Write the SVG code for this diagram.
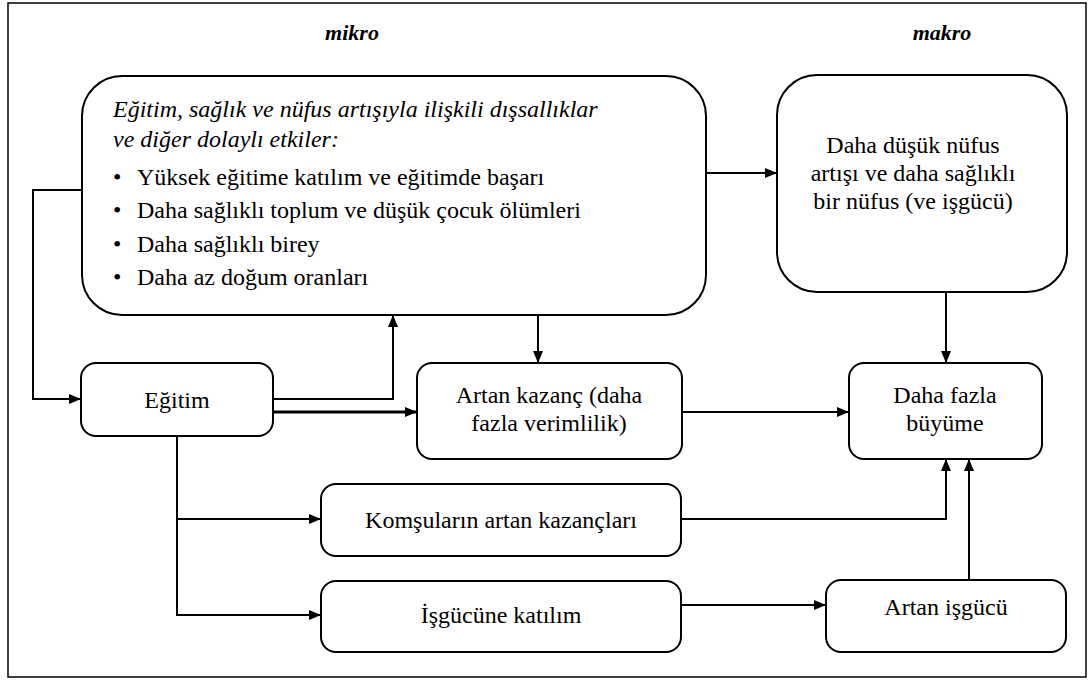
<svg xmlns="http://www.w3.org/2000/svg" width="1092" height="681" viewBox="0 0 1092 681">
<defs>
<marker id="ah" viewBox="0 0 12 10" refX="12" refY="5" markerWidth="12" markerHeight="10" markerUnits="userSpaceOnUse" orient="auto">
<path d="M0,0 L12,5 L0,10 Z" fill="#000"/>
</marker>
</defs>
<rect x="0" y="0" width="1092" height="681" fill="#fff"/>
<rect x="8" y="3" width="1078" height="674" fill="none" stroke="#000" stroke-width="1.5"/>
<text x="352" y="40" font-family="Liberation Serif" font-size="22" font-weight="bold" font-style="italic" text-anchor="middle">mikro</text>
<text x="942" y="40" font-family="Liberation Serif" font-size="22" font-weight="bold" font-style="italic" text-anchor="middle">makro</text>
<g id="connectors" fill="none" stroke="#000" stroke-width="2">
<polyline points="82,190 33,190 33,399 81,399" marker-end="url(#ah)"/>
<polyline points="273,399 393,399 393,315" marker-end="url(#ah)"/>
<line x1="273" y1="412" x2="417" y2="412" stroke-width="3" marker-end="url(#ah)"/>
<line x1="538" y1="315" x2="538" y2="363" marker-end="url(#ah)"/>
<line x1="706" y1="173" x2="777" y2="173" marker-end="url(#ah)"/>
<line x1="946" y1="292" x2="946" y2="363" marker-end="url(#ah)"/>
<line x1="682" y1="412" x2="849" y2="412" marker-end="url(#ah)"/>
<polyline points="177,436 177,615 321,615" marker-end="url(#ah)"/>
<line x1="177" y1="519" x2="321" y2="519" marker-end="url(#ah)"/>
<polyline points="681,519 946,519 946,459" marker-end="url(#ah)"/>
<line x1="681" y1="605" x2="826" y2="605" marker-end="url(#ah)"/>
<line x1="969" y1="580" x2="969" y2="459" marker-end="url(#ah)"/>
</g>
<g id="dissalliklar">
<rect x="82" y="76" width="624" height="239" rx="40" ry="40" fill="#fff" stroke="#000" stroke-width="2"/>
<text x="113" y="117" font-family="Liberation Serif" font-size="24" font-style="italic">Eğitim, sağlık ve nüfus artışıyla ilişkili dışsallıklar</text>
<text x="113" y="147" font-family="Liberation Serif" font-size="24" font-style="italic">ve diğer dolaylı etkiler:</text>
<text x="113" y="185" font-family="Liberation Serif" font-size="24">•</text>
<text x="137" y="185" font-family="Liberation Serif" font-size="24">Yüksek eğitime katılım ve eğitimde başarı</text>
<text x="113" y="218" font-family="Liberation Serif" font-size="24">•</text>
<text x="137" y="218" font-family="Liberation Serif" font-size="24">Daha sağlıklı toplum ve düşük çocuk ölümleri</text>
<text x="113" y="252" font-family="Liberation Serif" font-size="24">•</text>
<text x="137" y="252" font-family="Liberation Serif" font-size="24">Daha sağlıklı birey</text>
<text x="113" y="285" font-family="Liberation Serif" font-size="24">•</text>
<text x="137" y="285" font-family="Liberation Serif" font-size="24">Daha az doğum oranları</text>
</g>
<g id="nufus">
<rect x="777" y="75" width="290" height="217" rx="40" ry="40" fill="#fff" stroke="#000" stroke-width="2"/>
<text x="913" y="153" font-family="Liberation Serif" font-size="24" text-anchor="middle">Daha düşük nüfus</text>
<text x="913" y="181" font-family="Liberation Serif" font-size="24" text-anchor="middle">artışı ve daha sağlıklı</text>
<text x="913" y="209" font-family="Liberation Serif" font-size="24" text-anchor="middle">bir nüfus (ve işgücü)</text>
</g>
<g id="egitim">
<rect x="81" y="363" width="192" height="73" rx="15" ry="15" fill="#fff" stroke="#000" stroke-width="2"/>
<text x="177" y="408" font-family="Liberation Serif" font-size="24" text-anchor="middle">Eğitim</text>
</g>
<g id="artan-kazanc">
<rect x="417" y="363" width="265" height="96" rx="15" ry="15" fill="#fff" stroke="#000" stroke-width="2"/>
<text x="549" y="403" font-family="Liberation Serif" font-size="24" text-anchor="middle">Artan kazanç (daha</text>
<text x="549" y="431" font-family="Liberation Serif" font-size="24" text-anchor="middle">fazla verimlilik)</text>
</g>
<g id="buyume">
<rect x="849" y="363" width="193" height="96" rx="15" ry="15" fill="#fff" stroke="#000" stroke-width="2"/>
<text x="945" y="403" font-family="Liberation Serif" font-size="24" text-anchor="middle">Daha fazla</text>
<text x="945" y="431" font-family="Liberation Serif" font-size="24" text-anchor="middle">büyüme</text>
</g>
<g id="komsular">
<rect x="321" y="484" width="360" height="72" rx="15" ry="15" fill="#fff" stroke="#000" stroke-width="2"/>
<text x="501" y="528" font-family="Liberation Serif" font-size="24" text-anchor="middle">Komşuların artan kazançları</text>
</g>
<g id="isgucune">
<rect x="321" y="581" width="360" height="71" rx="15" ry="15" fill="#fff" stroke="#000" stroke-width="2"/>
<text x="501" y="623" font-family="Liberation Serif" font-size="24" text-anchor="middle">İşgücüne katılım</text>
</g>
<g id="artan-isgucu">
<rect x="826" y="580" width="240" height="72" rx="15" ry="15" fill="#fff" stroke="#000" stroke-width="2"/>
<text x="946" y="615" font-family="Liberation Serif" font-size="24" text-anchor="middle">Artan işgücü</text>
</g>
</svg>
